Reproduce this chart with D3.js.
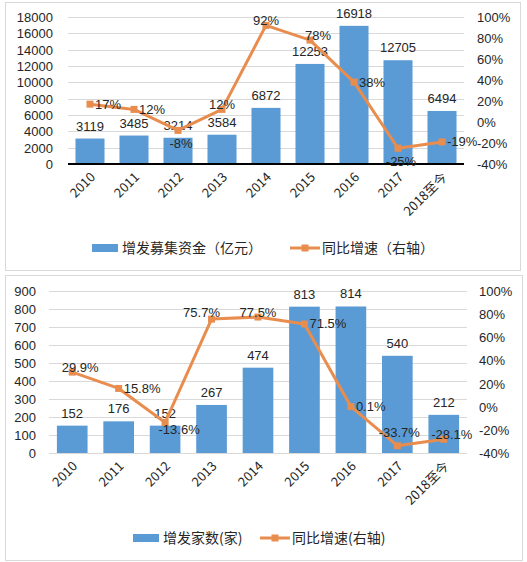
<!DOCTYPE html>
<html><head><meta charset="utf-8">
<script src="https://cdn.jsdelivr.net/npm/d3@7"></script>
<style>
html,body{margin:0;padding:0;background:#fff;}
svg{display:block;font-family:"Noto Sans CJK SC","Noto Sans",sans-serif;}
</style></head>
<body>
<svg id="c" width="527" height="562"></svg>
<script>
// ---------- data ----------
const categories = ["2010","2011","2012","2013","2014","2015","2016","2017","2018至今"];

const fundsValues = [3119,3485,3214,3584,6872,12253,16918,12705,6494];
const fundsGrowth = [17,12,-8,12,92,78,38,-25,-19];
const fundsLeftTicks = [0,2000,4000,6000,8000,10000,12000,14000,16000,18000];
const fundsRightTicks = [-40,-20,0,20,40,60,80,100];
const fundsLabelPos = ["E","E","S","N","N","NE","E","S","E"];
const fundsLegend = ["增发募集资金（亿元）","同比增速（右轴）"];

const countValues = [152,176,152,267,474,813,814,540,212];
const countGrowth = [29.9,15.8,-13.6,75.7,77.5,71.5,0.1,-33.7,-28.1];
const countLeftTicks = [0,100,200,300,400,500,600,700,800,900];
const countRightTicks = [-40,-20,0,20,40,60,80,100];
const countLabelPos = ["NE","E","SE","NW","N","E","E","NN","NE"];
const countLegend = ["增发家数(家)","同比增速(右轴)"];

// ---------- drawing ----------
const svg = d3.select("#c");
const BAR = "#5B9BD5", LINE = "#E98D4E", TXT = "#262626", GRID = "#d9d9d9";
const NUMFONT = "'Liberation Sans', Arial, sans-serif";

const posMap = {
  E:  {a:"start",  dx:5,   dy:0},
  N:  {a:"middle", dx:0,   dy:-5},
  NN: {a:"middle", dx:2,   dy:-13},
  S:  {a:"middle", dx:3,   dy:13},
  NE: {a:"middle", dx:8,   dy:-5},
  NW: {a:"middle", dx:-10, dy:-7},
  SE: {a:"middle", dx:14,  dy:7}
};

function drawChart(o){
  const g = svg.append("g");
  // frame
  g.append("rect").attr("x",o.frame[0]+0.5).attr("y",o.frame[1]+0.5)
    .attr("width",o.frame[2]).attr("height",o.frame[3])
    .attr("fill","none").attr("stroke",GRID);

  const x = d3.scaleBand().domain(o.cats).range([o.x0,o.x1]).paddingInner(0.34).paddingOuter(0.17);
  const y = d3.scaleLinear().domain([0,d3.max(o.leftTicks)]).range([o.yb,o.yt]);
  const y2 = d3.scaleLinear().domain([d3.min(o.rightTicks),d3.max(o.rightTicks)]).range([o.yb,o.yt]);

  // gridlines
  g.append("g").selectAll("line").data(o.leftTicks).join("line")
    .attr("x1",o.x0).attr("x2",o.x1)
    .attr("y1",d=>Math.round(y(d))+0.5).attr("y2",d=>Math.round(y(d))+0.5)
    .attr("stroke",GRID).attr("stroke-width",1);

  // left axis
  const la = d3.axisLeft(y).tickValues(o.leftTicks).tickSize(0).tickPadding(0).tickFormat(d3.format("d"));
  const lg = g.append("g").attr("transform",`translate(${o.lx},0)`).call(la);
  lg.select(".domain").remove();
  lg.selectAll("text").attr("fill",TXT).attr("font-size",13).attr("dy","0.35em")
    .attr("font-family",NUMFONT);

  // right axis
  const ra = d3.axisRight(y2).tickValues(o.rightTicks).tickSize(0).tickPadding(0).tickFormat(d=>d+"%");
  const rg = g.append("g").attr("transform",`translate(${o.rx},0)`).call(ra);
  rg.select(".domain").remove();
  rg.selectAll("text").attr("fill",TXT).attr("font-size",13).attr("dy","0.35em")
    .attr("font-family",NUMFONT);

  // bars
  g.append("g").selectAll("rect").data(o.values).join("rect")
    .attr("x",(d,i)=>x(o.cats[i])).attr("width",x.bandwidth())
    .attr("y",d=>y(d)).attr("height",d=>y(0)-y(d)).attr("fill",BAR);

  // zero axis line
  if(o.blackAxis){
    g.append("line").attr("x1",o.x0).attr("x2",o.x1).attr("y1",y(0)).attr("y2",y(0))
      .attr("stroke","#000").attr("stroke-width",2);
  }

  // bar labels
  g.append("g").selectAll("text").data(o.values).join("text")
    .attr("x",(d,i)=>x(o.cats[i])+x.bandwidth()/2).attr("y",d=>y(d)-8)
    .attr("text-anchor","middle").attr("font-size",13).attr("font-family",NUMFONT)
    .attr("fill",TXT).text(d=>d);

  // x labels
  g.append("g").selectAll("text").data(o.cats).join("text")
    .attr("transform",d=>`translate(${x(d)+x.bandwidth()/2+6},${y(0)+14}) rotate(-45)`)
    .attr("text-anchor","end").attr("font-size",13).attr("fill",TXT).text(d=>d);

  // line
  const cx = (i)=>x(o.cats[i])+x.bandwidth()/2;
  const line = d3.line().x((d,i)=>cx(i)).y(d=>y2(d));
  g.append("path").datum(o.growth).attr("d",line).attr("fill","none")
    .attr("stroke",LINE).attr("stroke-width",3).attr("stroke-linejoin","round");
  g.append("g").selectAll("rect").data(o.growth).join("rect")
    .attr("x",(d,i)=>cx(i)-3.5).attr("y",d=>y2(d)-3.5).attr("width",7).attr("height",7)
    .attr("fill",LINE);

  // line labels
  g.append("g").selectAll("text").data(o.growth).join("text")
    .each(function(d,i){
      const p = posMap[o.labelPos[i]];
      d3.select(this).attr("x",cx(i)+p.dx).attr("y",y2(d)+p.dy+4.5)
        .attr("text-anchor",p.a);
    })
    .attr("font-size",13).attr("font-family",NUMFONT).attr("fill",TXT).text(d=>d+"%");

  // legend
  const L = o.legend;
  g.append("rect").attr("x",L.bx).attr("y",L.y-4).attr("width",26).attr("height",8).attr("fill",BAR);
  g.append("text").attr("x",L.bx+30).attr("y",L.y+5).attr("font-size",14).attr("fill",TXT).text(o.legendText[0]);
  g.append("line").attr("x1",L.lx).attr("x2",L.lx+30).attr("y1",L.y).attr("y2",L.y)
    .attr("stroke",LINE).attr("stroke-width",3);
  g.append("rect").attr("x",L.lx+15-3.5).attr("y",L.y-3.5).attr("width",7).attr("height",7).attr("fill",LINE);
  g.append("text").attr("x",L.lx+32).attr("y",L.y+5).attr("font-size",14).attr("fill",TXT).text(o.legendText[1]);
}

drawChart({
  frame:[5,2,515,268],
  cats:categories, values:fundsValues, growth:fundsGrowth,
  leftTicks:fundsLeftTicks, rightTicks:fundsRightTicks, labelPos:fundsLabelPos,
  x0:68, x1:464, yt:17, yb:164, lx:53, rx:477, blackAxis:true,
  legend:{bx:92, lx:290, y:248}, legendText:fundsLegend
});

drawChart({
  frame:[5,275,517,285],
  cats:categories, values:countValues, growth:countGrowth,
  leftTicks:countLeftTicks, rightTicks:countRightTicks, labelPos:countLabelPos,
  x0:49, x1:467, yt:291, yb:453, lx:36, rx:479, blackAxis:false,
  legend:{bx:133, lx:260, y:538}, legendText:countLegend
});
</script>
</body></html>
